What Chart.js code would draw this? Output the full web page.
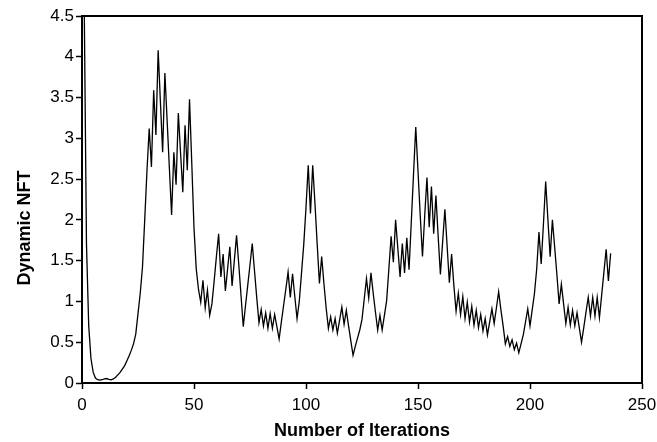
<!DOCTYPE html>
<html>
<head>
<meta charset="utf-8">
<script src="https://cdn.jsdelivr.net/npm/chart.js@4/dist/chart.umd.min.js"></script>
<style>
  html, body { margin: 0; padding: 0; background: #fff; }
  #wrap { width: 657px; height: 442px; }
</style>
</head>
<body>
<div id="wrap"><canvas id="nftChart" width="657" height="442"></canvas></div>
<script>
// Dynamic NFT per iteration (first iteration = 1)
const firstIteration = 1;
const nft = [
  4.6, 1.7, 0.7, 0.3, 0.13, 0.06, 0.04, 0.035, 0.04, 0.05,
  0.055, 0.045, 0.04, 0.05, 0.07, 0.1, 0.13, 0.17, 0.21, 0.27,
  0.33, 0.4, 0.48, 0.6, 0.85, 1.1, 1.42, 2.0, 2.6, 3.12,
  2.65, 3.59, 3.04, 4.08, 3.45, 2.83, 3.8, 3.22, 2.64, 2.06,
  2.83, 2.43, 3.31, 2.82, 2.34, 3.16, 2.61, 3.48, 2.7, 1.9,
  1.4, 1.15, 0.99, 1.26, 0.92, 1.14, 0.83, 0.97, 1.25, 1.55,
  1.83, 1.3, 1.58, 1.13, 1.4, 1.67, 1.19, 1.5, 1.81, 1.45,
  1.07, 0.69, 0.95, 1.2, 1.45, 1.71, 1.38, 1.05, 0.74, 0.9,
  0.7, 0.86, 0.67, 0.85, 0.67, 0.84, 0.69, 0.54, 0.75, 0.95,
  1.15, 1.36, 1.05, 1.34, 1.06, 0.79, 1.0, 1.35, 1.7, 2.15,
  2.67, 2.08, 2.67, 2.2, 1.7, 1.22, 1.55, 1.22, 0.92, 0.67,
  0.81, 0.65, 0.79, 0.61, 0.77, 0.93, 0.72, 0.89, 0.7, 0.52,
  0.34, 0.45, 0.55, 0.65, 0.78, 1.03, 1.28, 1.04, 1.35, 1.1,
  0.87, 0.65, 0.83, 0.65, 0.83, 1.01, 1.4, 1.8, 1.48, 2.0,
  1.65, 1.3, 1.71, 1.35, 1.78, 1.39, 1.97, 2.56, 3.14, 2.6,
  2.05, 1.55, 2.05, 2.52, 1.91, 2.41, 1.83, 2.3, 1.8, 1.33,
  1.73, 2.13, 1.68, 1.23, 1.58, 1.2, 0.88, 1.1, 0.84, 1.06,
  0.79, 0.99, 0.75, 0.94, 0.71, 0.89, 0.68, 0.84, 0.64, 0.79,
  0.59, 0.75, 0.91, 0.73, 0.92, 1.12, 0.9, 0.7, 0.48, 0.57,
  0.45, 0.53, 0.41, 0.49, 0.37, 0.48, 0.59, 0.75, 0.91, 0.7,
  0.9, 1.1, 1.4, 1.85, 1.46, 1.95, 2.47, 2.0, 1.55, 2.0,
  1.67, 1.33, 0.97, 1.21, 0.97, 0.73, 0.93, 0.71, 0.89, 0.7,
  0.86, 0.68, 0.5, 0.68, 0.87, 1.05, 0.82, 1.05, 0.82, 1.05,
  0.8, 1.08, 1.36, 1.64, 1.25, 1.59
];

// axis ranges / ticks
const xMin = 0, xMax = 250, xStep = 50;
const yMin = 0, yMax = 4.5, yStep = 0.5;
const yTitle = "Dynamic NFT";

const points = nft.map((v, i) => ({ x: firstIteration + i, y: v }));

const font = "'Liberation Sans', Arial, sans-serif";

// box round the plot area (top and right sides) + y axis title, which sits a bit below centre
const frame = {
  id: "frame",
  afterDraw(chart) {
    const { ctx, chartArea: a } = chart;
    ctx.save();
    ctx.strokeStyle = "#000";
    ctx.lineWidth = 2;
    ctx.beginPath();
    ctx.moveTo(a.left, a.top);
    ctx.lineTo(a.right, a.top);
    ctx.lineTo(a.right, a.bottom);
    ctx.stroke();

    ctx.translate(25, chart.scales.y.getPixelForValue(1.9));
    ctx.rotate(-Math.PI / 2);
    ctx.fillStyle = "#000";
    ctx.font = "bold 18px " + font;
    ctx.textAlign = "center";
    ctx.textBaseline = "middle";
    ctx.fillText(yTitle, 0, 0);
    ctx.restore();
  }
};

new Chart(document.getElementById("nftChart").getContext("2d"), {
  type: "line",
  data: {
    datasets: [{
      data: points,
      borderColor: "#000",
      borderWidth: 1.3,
      pointRadius: 0,
      tension: 0,
      fill: false
    }]
  },
  options: {
    responsive: false,
    animation: false,
    layout: { padding: { top: 16, right: 15, left: 0, bottom: 0 } },
    plugins: { legend: { display: false }, tooltip: { enabled: false } },
    scales: {
      x: {
        type: "linear",
        min: xMin, max: xMax,
        ticks: { stepSize: xStep, color: "#000", font: { family: font, size: 17 }, padding: 6, maxRotation: 0 },
        grid: { drawOnChartArea: false, color: "#000", tickLength: 6, tickWidth: 1.5 },
        border: { color: "#000", width: 2 },
        title: { display: true, text: "Number of Iterations", color: "#000", font: { family: font, size: 18, weight: "bold" }, padding: { top: 0, bottom: 0 } },
        afterFit(scale) {
          scale.height = 59;
          scale.paddingLeft = 0;
          scale.paddingRight = 0;
        }
      },
      y: {
        min: yMin, max: yMax,
        ticks: {
          stepSize: yStep, color: "#000", font: { family: font, size: 17 }, padding: 2,
          callback: v => String(Math.round(v * 10) / 10)
        },
        grid: { drawOnChartArea: false, color: "#000", tickLength: 6, tickWidth: 1.5 },
        border: { color: "#000", width: 2 },
        afterFit(scale) { scale.width = 82; }
      }
    }
  },
  plugins: [frame]
});
</script>
</body>
</html>
